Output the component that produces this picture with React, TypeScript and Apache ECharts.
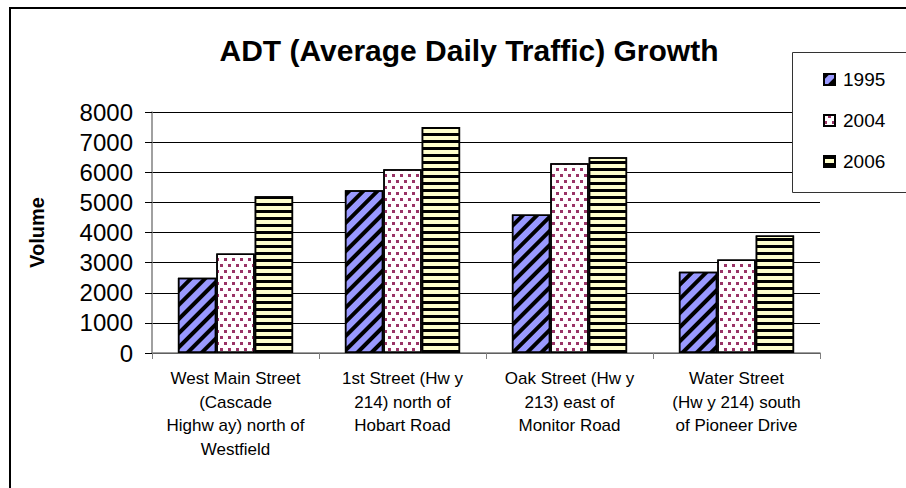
import React, { useEffect, useRef } from "react";
import * as echarts from "echarts";

const categories = [
  "West Main Street\n(Cascade\nHighw ay) north of\nWestfield",
  "1st Street (Hw y\n214) north of\nHobart Road",
  "Oak Street (Hw y\n213) east of\nMonitor Road",
  "Water Street\n(Hw y 214) south\nof Pioneer Drive",
];
const seriesNames = ["1995", "2004", "2006"];
const values1995 = [2500, 5400, 4600, 2700];
const values2004 = [3300, 6100, 6300, 3100];
const values2006 = [5200, 7500, 6500, 3900];
const yTicks = { min: 0, max: 8000, interval: 1000 };

const FONT = "'Liberation Sans', Arial, sans-serif";

export default function App() {
  const ref = useRef<HTMLDivElement>(null);
  useEffect(() => {
    if (!ref.current) return;
    const chart = echarts.init(ref.current, null, { renderer: "svg" });
    const border = { borderColor: "#000", borderWidth: 1.5 };
    chart.setOption({
      animation: false,
      backgroundColor: "#fff",
      textStyle: { fontFamily: FONT, color: "#000" },
      title: {
        text: "ADT (Average Daily Traffic) Growth",
        left: 464,
        textAlign: "center",
        top: 30,
        textStyle: { fontFamily: FONT, fontSize: 30, fontWeight: "bold", color: "#000" },
      },
      graphic: [
        {
          type: "rect",
          shape: { x: 10, y: 8, width: 1000, height: 1000 },
          style: { fill: "none", stroke: "#000", lineWidth: 2 },
          silent: true,
          z: 10,
        },
        {
          type: "rect",
          shape: { x: 792.5, y: 52.5, width: 200, height: 140 },
          style: { fill: "#fff", stroke: "#333", lineWidth: 1 },
          silent: true,
          z: 1,
        },
      ],
      legend: {
        orient: "vertical",
        left: 818,
        top: 65,
        itemGap: 22,
        itemWidth: 11,
        itemHeight: 11,
        icon: "rect",
        z: 5,
        textStyle: { fontFamily: FONT, fontSize: 19, color: "#000", padding: [0, 0, 0, 3] },
        data: seriesNames,
      },
      grid: { left: 152, right: 86, top: 112, bottom: 135, containLabel: false },
      xAxis: {
        type: "category",
        data: categories,
        axisLine: { lineStyle: { color: "#808080", width: 1.5 } },
        axisTick: { show: true, length: 6, lineStyle: { color: "#808080" } },
        axisLabel: {
          interval: 0,
          margin: 14,
          fontSize: 17,
          lineHeight: 23.5,
          color: "#000",
          fontFamily: FONT,
        },
      },
      yAxis: {
        type: "value",
        min: yTicks.min,
        max: yTicks.max,
        interval: yTicks.interval,
        name: "Volume",
        nameLocation: "middle",
        nameRotate: 90,
        nameGap: 105,
        nameTextStyle: { fontFamily: FONT, fontSize: 20, fontWeight: "bold", color: "#000" },
        axisLine: { show: true, lineStyle: { color: "#808080", width: 1.5 } },
        axisTick: { show: true, inside: false, length: 7, lineStyle: { color: "#000" } },
        axisLabel: {
          fontSize: 24,
          color: "#000",
          margin: 19,
          fontFamily: FONT,
          formatter: (v: number) => String(v),
        },
        splitLine: { show: true, lineStyle: { color: "#000", width: 1 } },
      },
      series: [
        {
          name: seriesNames[0],
          type: "bar",
          data: values1995,
          barGap: "0%",
          barCategoryGap: "31%",
          itemStyle: {
            color: "#9999FF",
            ...border,
            decal: {
              symbol: "rect",
              symbolSize: 1,
              color: "#000",
              dashArrayX: [1, 0],
              dashArrayY: [4, 6],
              rotation: -Math.PI / 4,
            },
          },
        },
        {
          name: seriesNames[1],
          type: "bar",
          data: values2004,
          itemStyle: {
            color: "#FFFFFF",
            ...border,
            decal: {
              symbol: "rect",
              symbolSize: 1,
              color: "#993366",
              dashArrayX: [[3, 5], [0, 4, 3, 1]],
              dashArrayY: [3, 3],
              rotation: 0,
            },
          },
        },
        {
          name: seriesNames[2],
          type: "bar",
          data: values2006,
          itemStyle: {
            color: "#FFFFCC",
            ...border,
            decal: {
              symbol: "rect",
              symbolSize: 1,
              color: "#000",
              dashArrayX: [1, 0],
              dashArrayY: [3, 4],
              rotation: 0,
            },
          },
        },
      ],
    });
    return () => chart.dispose();
  }, []);
  return (
    <div
      ref={ref}
      style={{ position: "fixed", left: 0, top: 0, width: 906, height: 488 }}
    />
  );
}
